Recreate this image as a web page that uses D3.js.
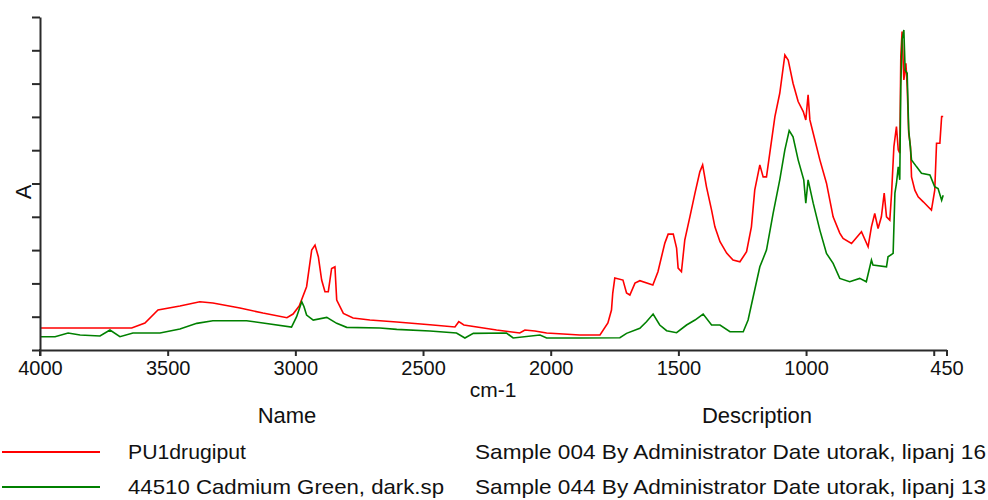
<!DOCTYPE html>
<html><head><meta charset="utf-8">
<script src="https://cdn.jsdelivr.net/npm/d3@7/dist/d3.min.js"></script>
<style>
html,body{margin:0;padding:0;background:#fff;}
svg{display:block;}
text{font-family:"Liberation Sans",Arial,sans-serif;fill:#111;}
</style></head>
<body>
<svg id="chart" width="988" height="500"></svg>
<script>
// ---- data (wavenumber cm-1, absorbance in arbitrary units) ----
const redWave = [4000,3641,3589,3538,3452,3374,3323,3217,3127,3033,3009,2985,2956,2936,2923,2910,2897,2884,2871,2858,2845,2838,2812,2774,2708,2603,2473,2375,2360,2340,2212,2121,2101,2062,2016,1886,1807,1776,1762,1757,1749,1717,1703,1690,1670,1651,1600,1580,1566,1553,1540,1520,1507,1501,1488,1475,1455,1435,1416,1405,1390,1370,1357,1337,1311,1286,1259,1233,1214,1201,1181,1168,1155,1142,1122,1103,1083,1070,1051,1031,1011,1001,992,985,972,946,920,894,868,855,822,783,757,744,731,718,705,694,685,672,665,656,646,639,633,629,624,617,609,604,598,591,587,574,561,541,522,509,496,489,476,469,463];
const redAbs  = [0.066,0.066,0.081,0.120,0.132,0.145,0.141,0.126,0.111,0.097,0.108,0.132,0.190,0.300,0.315,0.280,0.210,0.175,0.175,0.245,0.250,0.150,0.110,0.096,0.090,0.084,0.076,0.069,0.085,0.075,0.060,0.051,0.060,0.057,0.051,0.045,0.045,0.081,0.120,0.171,0.216,0.210,0.171,0.165,0.201,0.208,0.195,0.235,0.280,0.321,0.348,0.348,0.306,0.246,0.235,0.330,0.400,0.471,0.535,0.556,0.490,0.420,0.370,0.325,0.291,0.270,0.265,0.295,0.370,0.480,0.556,0.520,0.520,0.591,0.701,0.771,0.886,0.871,0.801,0.746,0.716,0.691,0.766,0.691,0.651,0.571,0.501,0.400,0.351,0.335,0.320,0.355,0.310,0.370,0.410,0.365,0.400,0.471,0.400,0.390,0.471,0.611,0.671,0.601,0.591,0.881,0.956,0.811,0.861,0.791,0.651,0.611,0.520,0.480,0.460,0.445,0.430,0.420,0.480,0.621,0.621,0.701,0.701];

const greenWave = [4000,3941,3890,3843,3765,3726,3687,3636,3530,3452,3386,3323,3191,3127,3015,2995,2975,2966,2956,2930,2877,2838,2799,2669,2603,2473,2369,2336,2303,2173,2147,2042,2016,1886,1729,1703,1651,1625,1599,1573,1546,1507,1468,1435,1403,1370,1337,1298,1246,1227,1207,1181,1155,1129,1103,1083,1066,1051,1031,1009,1001,992,972,946,920,894,868,829,790,764,744,738,685,679,659,652,646,639,633,629,624,617,612,604,598,587,567,548,515,496,483,469,463];
const greenAbs  = [0.040,0.040,0.051,0.045,0.042,0.060,0.040,0.051,0.051,0.063,0.080,0.088,0.088,0.081,0.069,0.100,0.145,0.130,0.105,0.090,0.098,0.080,0.068,0.066,0.062,0.057,0.051,0.036,0.050,0.051,0.036,0.045,0.036,0.036,0.037,0.050,0.065,0.085,0.108,0.075,0.058,0.052,0.075,0.090,0.108,0.075,0.075,0.055,0.055,0.090,0.160,0.250,0.300,0.410,0.511,0.601,0.659,0.640,0.571,0.511,0.441,0.511,0.441,0.360,0.290,0.260,0.215,0.205,0.215,0.205,0.270,0.255,0.250,0.280,0.290,0.471,0.500,0.550,0.511,0.791,0.931,0.961,0.841,0.831,0.661,0.571,0.550,0.531,0.526,0.490,0.485,0.450,0.465];

const xTicks = [4000,3500,3000,2500,2000,1500,1000,500,450];
const xTickLabels = ["4000","3500","3000","2500","2000","1500","1000","","450"];
const yTicks = [0,0.1,0.2,0.3,0.4,0.5,0.6,0.7,0.8,0.9,1.0];

const seriesNames = ["PU1drugiput","44510 Cadmium Green, dark.sp"];
const seriesDesc = ["Sample 004 By Administrator Date utorak, lipanj 16","Sample 044 By Administrator Date utorak, lipanj 13"];
const seriesColors = ["#ff0000","#008000"];

// ---- drawing ----
const svg = d3.select("#chart");
const x = d3.scaleLinear().domain([4000,450]).range([40,946.5]);
const y = d3.scaleLinear().domain([0,1]).range([350,17]);

const series = [
  redWave.map((w,i)=>[w,redAbs[i]]),
  greenWave.map((w,i)=>[w,greenAbs[i]])
];

const line = d3.line().x(d=>x(d[0])).y(d=>y(d[1]));
svg.selectAll("path.series").data(series).join("path")
  .attr("class","series")
  .attr("fill","none")
  .attr("stroke",(d,i)=>seriesColors[i])
  .attr("stroke-width",1.6)
  .attr("stroke-linejoin","miter")
  .attr("d",line);

// y axis
const yAxis = svg.append("g").attr("transform","translate(40,0)")
  .call(d3.axisLeft(y).tickValues(yTicks).tickFormat("").tickSize(8).tickSizeOuter(0));
// x axis
const xAxis = svg.append("g").attr("transform","translate(0,350)")
  .call(d3.axisBottom(x).tickValues(xTicks).tickFormat((d,i)=>xTickLabels[i]).tickSize(6).tickSizeOuter(0).tickPadding(5));
[yAxis,xAxis].forEach(g=>{
  g.select(".domain").attr("stroke","#2a2a2a").attr("stroke-width",2);
  g.selectAll(".tick line").attr("stroke","#2a2a2a").attr("stroke-width",2);
});
svg.append("line").attr("x1",40).attr("x2",40).attr("y1",349).attr("y2",356).attr("stroke","#2a2a2a").attr("stroke-width",2);
xAxis.selectAll(".tick text").attr("font-size",20).attr("fill","#111")
  .attr("font-family","'Liberation Sans',Arial,sans-serif").attr("dy","0.71em");

// axis titles
svg.append("text").attr("x",493).attr("y",397).attr("text-anchor","middle").attr("font-size",21).text("cm-1");
svg.append("text").attr("transform","translate(31,192) rotate(-90)").attr("text-anchor","middle").attr("font-size",22).text("A");

// legend
svg.append("text").attr("x",287).attr("y",423).attr("text-anchor","middle").attr("font-size",22).text("Name");
svg.append("text").attr("x",757).attr("y",423).attr("text-anchor","middle").attr("font-size",22).text("Description");
const rowsY = [452,487];
const nameLen = [118,316];
seriesNames.forEach((n,i)=>{
  svg.append("line").attr("x1",2).attr("x2",100).attr("y1",rowsY[i]).attr("y2",rowsY[i])
    .attr("stroke",seriesColors[i]).attr("stroke-width",2);
  svg.append("text").attr("x",128).attr("y",rowsY[i]+7).attr("font-size",21)
    .attr("textLength",nameLen[i]).attr("lengthAdjust","spacingAndGlyphs").text(n);
  svg.append("text").attr("x",475).attr("y",rowsY[i]+7).attr("font-size",21)
    .attr("textLength",511).attr("lengthAdjust","spacingAndGlyphs").text(seriesDesc[i]);
});
</script>
</body></html>
